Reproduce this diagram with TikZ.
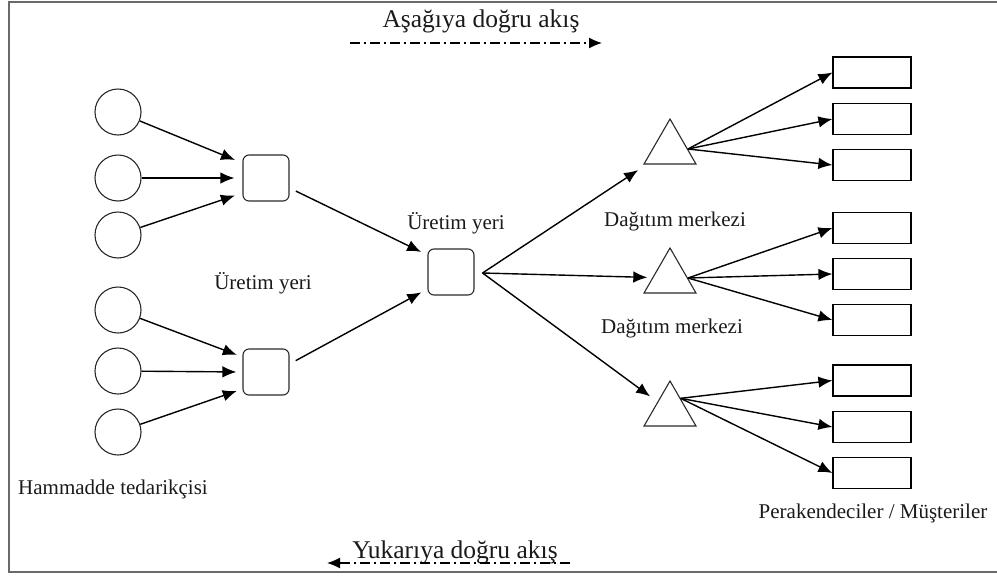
\documentclass[tikz,border=0pt]{standalone}
\usepackage{fontspec}
\setmainfont{Liberation Serif}
\usetikzlibrary{arrows.meta,calc,shapes.geometric}
\definecolor{ink}{HTML}{2A2A2A}
\definecolor{txt}{HTML}{1A1A1A}
\definecolor{framecol}{HTML}{6A6A6A}
\begin{document}
\begin{tikzpicture}[x=1pt,y=-1pt,
  supplier/.style={circle,draw=ink,line width=1.1pt,minimum size=46pt,inner sep=0pt},
  plant/.style={rectangle,rounded corners=6pt,draw=ink,line width=1.1pt,minimum size=46pt,inner sep=0pt},
  depot/.style={regular polygon,regular polygon sides=3,draw=ink,line width=1.1pt,minimum size=60pt,inner sep=0pt},
  shop/.style={rectangle,draw=black,line width=1.2pt,minimum width=78pt,minimum height=31pt,inner sep=0pt},
  flow/.style={draw=black,line width=1.4pt,-{Latex[length=14pt,width=11.5pt]}},
  lbl/.style={font=\fontsize{21}{24}\selectfont,text=txt,inner sep=0pt,anchor=base},
  ttl/.style={font=\fontsize{25.5}{28}\selectfont,text=txt,inner sep=0pt,anchor=base},
  dashdot/.style={draw=black,line width=1.3pt,dash pattern=on 10pt off 4pt on 2pt off 4pt}
]
\useasboundingbox (0,0) rectangle (997,576);
% page frame
\draw[framecol,line width=2pt] (997,2) -- (9,2) -- (9,572) -- (997,572);

% raw material suppliers
\node[supplier] (a1) at (118,112) {};
\node[supplier] (a2) at (118,178) {};
\node[supplier] (a3) at (118,235) {};
\node[supplier] (a4) at (118,310) {};
\node[supplier] (a5) at (118,371) {};
\node[supplier] (a6) at (118,432) {};

% production sites
\node[plant] (s1) at (266,178) {};
\node[plant] (s2) at (266,372) {};
\node[plant] (m) at (451,272) {};
\coordinate (fork) at ($(m.east)+(8,1)$);

% distribution centres
\node[depot] (t1) at (670,149) {};
\node[depot] (t2) at (670,278) {};
\node[depot] (t3) at (670,411) {};

% retailers / customers
\foreach \i/\y in {1/72.5,2/119,3/165,4/228,5/274,6/320,7/380.5,8/427,9/473}
  \node[shop] (b\i) at (872,\y) {};

% suppliers -> production sites
\draw[flow,shorten >=8pt] (a1) -- ($(s1.west)+(0,-15)$);
\draw[flow,shorten >=8pt] (a2) -- (s1.west);
\draw[flow,shorten >=8pt] (a3) -- ($(s1.west)+(0,15)$);
\draw[flow,shorten >=6pt] (a4) -- ($(s2.west)+(0,-15)$);
\draw[flow,shorten >=6pt] (a5) -- (s2.west);
\draw[flow,shorten >=6pt] (a6) -- ($(s2.west)+(0,17)$);

% production sites -> main production site
\draw[flow,shorten <=7pt,shorten >=7pt] ($(s1.east)+(0,10)$) -- ($(m.west)+(0,-17)$);
\draw[flow,shorten <=7pt,shorten >=7pt] ($(s2.east)+(0,-8)$) -- ($(m.west)+(0,17)$);

% main production site -> distribution centres
\draw[flow,shorten >=10pt] (fork) -- (t1);
\draw[flow,shorten >=5pt] (fork) -- (t2);
\draw[flow,shorten >=9pt] (fork) -- (t3);

% distribution centres -> retailers
\foreach \i in {1,2,3} \draw[flow] (t1.east) -- (b\i.west);
\foreach \i in {4,5,6} \draw[flow] (t2.east) -- (b\i.west);
\foreach \i in {7,8,9} \draw[flow] (t3.50) -- (b\i.west);

% labels
\node[lbl] (l1) at (263,289) {Üretim yeri};
\node[lbl] (l2) at (456,229) {Üretim yeri};
\node[lbl] (l3) at (675,226) {Dağıtım merkezi};
\node[lbl] (l4) at (672,333) {Dağıtım merkezi};
\node[lbl] (l5) at (113,494) {Hammadde tedarikçisi};
\node[lbl] (l6) at (873,518) {Perakendeciler / Müşteriler};

% flow directions
\node[ttl] (down) at (481,27) {Aşağıya doğru akış};
\coordinate (d0) at (350,43);
\coordinate (d1) at (602,43);
\draw[dashdot,-{Latex[length=13pt,width=11pt]}] (d0) -- (d1);
\node[ttl] (up) at (455,558) {Yukarıya doğru akış};
\coordinate (u0) at (570,563);
\coordinate (u1) at (327,563);
\draw[dashdot,-{Latex[length=13pt,width=11pt]}] (u0) -- (u1);
\end{tikzpicture}
\end{document}
